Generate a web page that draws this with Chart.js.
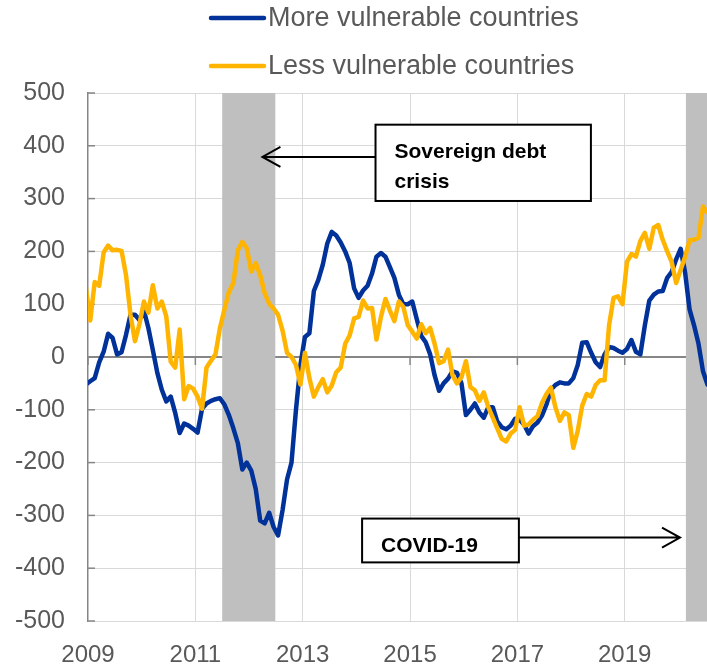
<!DOCTYPE html>
<html>
<head>
<meta charset="utf-8">
<script src="https://cdn.jsdelivr.net/npm/chart.js@4/dist/chart.umd.min.js"></script>
<style>
  html, body { margin: 0; padding: 0; background: #ffffff; }
  canvas { display: block; }
</style>
</head>
<body>
<canvas id="chart" width="707" height="665"></canvas>
<script>
// monthly series, first value is Dec 2008 (mid-month), last is Jul 2020
const startYear = 2009;
const moreVulnerable = [
  -52, -46, -40, -10, 10, 44, 36, 5, 9, 42, 80, 80,
  70, 88, 55, 13, -30, -62, -84, -75, -106, -144, -126, -130,
  -136, -143, -98, -88, -83, -80, -78, -90, -110, -135, -163, -213,
  -200, -215, -250, -310, -315, -295, -322, -338, -290, -232, -200, -100,
  -15, 38, 45, 125, 146, 175, 215, 237, 230, 217, 200, 178,
  130, 112, 126, 135, 158, 190, 197, 190, 170, 150, 118, 100,
  100, 105, 72, 40, 28, 5, -35, -64, -50, -41, -27, -30,
  -50, -110, -100, -88, -105, -115, -95, -95, -122, -133, -137, -130,
  -117, -119, -128, -145, -131, -124, -111, -90, -62, -53, -48, -50,
  -50, -40, -15, 27, 28, 8, -10, -19, 5, 19, 17, 12,
  8, 15, 32, 10, 5, 60, 107, 118, 124, 125, 150, 161,
  185, 205, 160, 90, 60, 25, -27, -52
];
const lessVulnerable = [
  133, 69, 142, 135, 198, 211, 202, 203, 201, 155, 80, 30,
  62, 105, 84, 136, 92, 105, 77, -9, -20, 52, -80, -55,
  -60, -75, -98, -20, -7, 5, 55, 90, 123, 140, 202, 218,
  206, 162, 178, 155, 121, 101, 92, 80, 50, 8, 0, -15,
  -52, 8, -40, -75, -57, -42, -67, -54, -29, -20, 25, 41,
  73, 76, 107, 92, 93, 33, 76, 110, 88, 68, 105, 95,
  60, 48, 35, 62, 45, 55, 25, -12, -8, 14, -35, -50,
  -38, -8, -57, -63, -83, -67, -95, -115, -135, -155, -160, -145,
  -138, -95, -130, -128, -119, -112, -87, -70, -58, -95, -121, -105,
  -110, -172, -140, -92, -70, -75, -53, -44, -44, 60, 112, 115,
  100, 180, 195, 190, 220, 235, 205, 245, 250, 222, 200, 180,
  140, 165, 190, 221, 222, 226, 285, 274
];
const seriesNames = ['More vulnerable countries', 'Less vulnerable countries'];
const xTickValues = [2009, 2011, 2013, 2015, 2017, 2019];
const xTickLabels = ['2009', '2011', '2013', '2015', '2017', '2019'];
// shaded periods (years)
const shadeStart = [2011.5, 2020.14];
const shadeEnd = [2012.49, 2020.6];
const xMax = 2020.533;

function toPoints(values) {
  return values.map((v, i) => ({ x: startYear + (i - 0.5) / 12, y: v }));
}

const FONT = "'Liberation Sans', Arial, sans-serif";
const GREY_TEXT = '#595959';
const AXIS_GREY = '#868686';

const decorations = {
  id: 'decorations',
  beforeDatasetsDraw(chart) {
    const { ctx, chartArea: a, scales: { x, y } } = chart;
    ctx.save();
    // grey shaded periods
    ctx.fillStyle = '#bfbfbf';
    for (let k = 0; k < shadeStart.length; k++) {
      const x0 = Math.max(x.getPixelForValue(shadeStart[k]), a.left);
      const x1 = Math.min(x.getPixelForValue(shadeEnd[k]), a.right);
      ctx.fillRect(x0, a.top, x1 - x0, a.bottom - a.top);
    }
    // inside tick marks on the value axis, and below the zero line
    ctx.strokeStyle = AXIS_GREY;
    ctx.lineWidth = 1.5;
    y.ticks.forEach(t => {
      const py = y.getPixelForValue(t.value);
      ctx.beginPath();
      ctx.moveTo(a.left, py);
      ctx.lineTo(a.left + 7, py);
      ctx.stroke();
    });
    const y0 = y.getPixelForValue(0);
    x.ticks.forEach(t => {
      const px = x.getPixelForValue(t.value);
      ctx.beginPath();
      ctx.moveTo(px, y0);
      ctx.lineTo(px, y0 + 8);
      ctx.stroke();
    });
    ctx.restore();
  },
  afterDatasetsDraw(chart) {
    const { ctx, scales: { x, y } } = chart;
    ctx.save();
    ctx.strokeStyle = '#000000';
    ctx.lineWidth = 2;
    ctx.fillStyle = '#000000';
    ctx.font = 'bold 21px ' + FONT;
    ctx.textBaseline = 'alphabetic';

    function box(x0, x1, yTop, yBot, lines) {
      const l = x.getPixelForValue(x0), r = x.getPixelForValue(x1);
      const t = y.getPixelForValue(yTop), b = y.getPixelForValue(yBot);
      ctx.fillStyle = '#ffffff';
      ctx.fillRect(l, t, r - l, b - t);
      ctx.strokeRect(l, t, r - l, b - t);
      ctx.fillStyle = '#000000';
      lines.forEach((s, i) => ctx.fillText(s, l + 19, t + 33 + i * 30));
    }
    function arrow(fromX, toX, atY) {
      const x0 = x.getPixelForValue(fromX), x1 = x.getPixelForValue(toX);
      const py = y.getPixelForValue(atY);
      const dir = x1 > x0 ? -1 : 1;
      ctx.beginPath();
      ctx.moveTo(x0, py);
      ctx.lineTo(x1, py);
      ctx.moveTo(x1 + dir * 18, py - 10);
      ctx.lineTo(x1, py);
      ctx.lineTo(x1 + dir * 18, py + 10);
      ctx.stroke();
    }

    box(2014.357, 2018.37, 440, 295.5, ['Sovereign debt', 'crisis']);
    arrow(2014.357, 2012.25, 379);
    box(2014.107, 2017.028, -306, -389, ['COVID-19']);
    arrow(2017.028, 2020.03, -342);
    ctx.restore();
  },
  afterDraw(chart) {
    // legend: two rows, short line then label
    const { ctx } = chart;
    ctx.save();
    ctx.font = '27px ' + FONT;
    ctx.textBaseline = 'middle';
    ctx.textAlign = 'left';
    const rows = [18, 66];
    chart.data.datasets.forEach((ds, i) => {
      const ly = rows[i];
      ctx.strokeStyle = ds.borderColor;
      ctx.lineWidth = 4.5;
      ctx.lineCap = 'round';
      ctx.beginPath();
      ctx.moveTo(211, ly);
      ctx.lineTo(264, ly);
      ctx.stroke();
      ctx.fillStyle = GREY_TEXT;
      ctx.fillText(ds.label, 268, ly + 1);
    });
    ctx.restore();
  }
};

new Chart(document.getElementById('chart'), {
  type: 'line',
  data: {
    datasets: [
      {
        label: seriesNames[0],
        data: toPoints(moreVulnerable),
        borderColor: '#003299',
        borderWidth: 4.5,
        pointRadius: 0,
        tension: 0,
        borderJoinStyle: 'round',
        borderCapStyle: 'round',
        clip: 0,
        order: 1
      },
      {
        label: seriesNames[1],
        data: toPoints(lessVulnerable),
        borderColor: '#ffb400',
        borderWidth: 4.5,
        pointRadius: 0,
        tension: 0,
        borderJoinStyle: 'round',
        borderCapStyle: 'round',
        clip: 0,
        order: 0
      }
    ]
  },
  plugins: [decorations],
  options: {
    responsive: false,
    animation: false,
    layout: { padding: { top: 93, right: 0, bottom: 0, left: 0 } },
    plugins: {
      legend: { display: false },
      tooltip: { enabled: false }
    },
    scales: {
      x: {
        type: 'linear',
        min: startYear,
        max: xMax,
        afterBuildTicks: (scale) => {
          scale.ticks = xTickValues.map(v => ({ value: v }));
        },
        afterFit: (scale) => { scale.height = 44; },
        grid: {
          color: (c) => c.index === 0 ? 'rgba(0,0,0,0)' : '#d9d9d9',
          lineWidth: 1,
          drawTicks: false
        },
        border: { display: true, color: '#d9d9d9', width: 1 },
        ticks: {
          padding: 20,
          color: GREY_TEXT,
          font: { family: FONT, size: 24 },
          maxRotation: 0,
          autoSkip: false,
          callback: (v) => xTickLabels[xTickValues.indexOf(v)]
        }
      },
      y: {
        min: -500,
        max: 500,
        afterFit: (scale) => { scale.width = 88; },
        grid: {
          color: (c) => c.tick && c.tick.value === 0 ? AXIS_GREY : '#d9d9d9',
          lineWidth: (c) => c.tick && c.tick.value === 0 ? 2 : 1,
          drawTicks: false
        },
        border: { display: true, color: AXIS_GREY, width: 1.5 },
        ticks: {
          stepSize: 100,
          padding: 23,
          color: GREY_TEXT,
          font: { family: FONT, size: 25 },
          callback: (v) => String(v)
        }
      }
    }
  }
});
</script>
</body>
</html>
